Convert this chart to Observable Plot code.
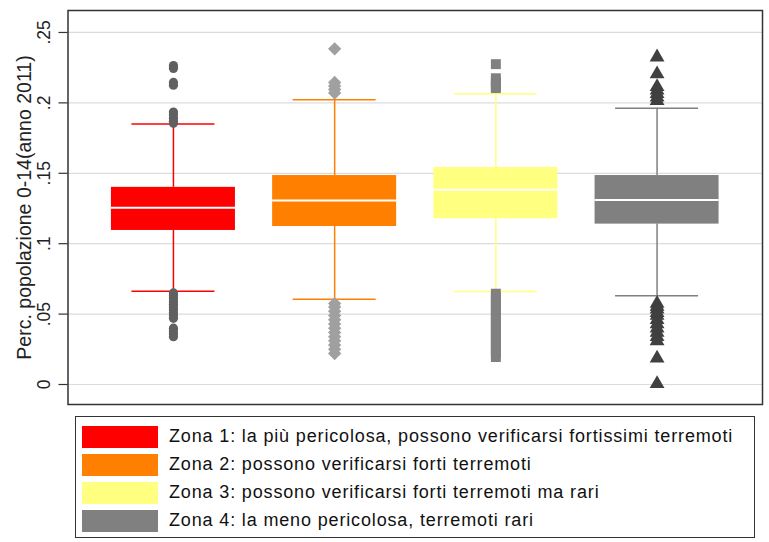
<!DOCTYPE html>
<html><head><meta charset="utf-8">
<script src="https://cdn.jsdelivr.net/npm/d3@7"></script>
<script src="https://cdn.jsdelivr.net/npm/@observablehq/plot@0.6"></script>
<style>
body{margin:0;background:#fff;font-family:"Liberation Sans",Arial,sans-serif;}
#wrap{position:relative;width:769px;height:542px;overflow:hidden;}
#chart{position:absolute;left:0;top:0;}
#legend{position:absolute;left:75px;top:416px;width:680px;height:122px;box-sizing:border-box;border:1.5px solid #333;}
.row{position:absolute;left:6px;height:22px;display:flex;align-items:center;}
.sw{width:76px;height:22px;flex:none;}
.lab{margin-left:11px;font-size:18px;letter-spacing:0.85px;color:#111;white-space:nowrap;}
</style></head><body><div id="wrap"><div id="chart"></div><div id="legend"></div></div>
<script>
const zones = ["Zona 1", "Zona 2", "Zona 3", "Zona 4"];
const legendLabels = [
  "Zona 1: la più pericolosa, possono verificarsi fortissimi terremoti",
  "Zona 2: possono verificarsi forti terremoti",
  "Zona 3: possono verificarsi forti terremoti ma rari",
  "Zona 4: la meno pericolosa, terremoti rari"
];
const colors = ["#ff0000", "#ff8000", "#ffff80", "#808080"];
const q1 = [0.1094, 0.1122, 0.1177, 0.1139];
const median = [0.1255, 0.1307, 0.1383, 0.1311];
const q3 = [0.1400, 0.1484, 0.1541, 0.1484];
const whiskLo = [0.0663, 0.0606, 0.0660, 0.0630];
const whiskHi = [0.1850, 0.2022, 0.2065, 0.1962];

const out1 = [0.2265, 0.2245, 0.2145, 0.2125, 0.1935, 0.1915, 0.189, 0.187, 0.1855,
  0.065, 0.063, 0.061, 0.059, 0.057, 0.055, 0.053, 0.051, 0.049, 0.047, 0.040, 0.038, 0.036, 0.034];
const out2 = [0.2384, 0.2145, 0.212, 0.2095, 0.207,
  0.0575, 0.055, 0.052, 0.049, 0.046, 0.043, 0.040, 0.037, 0.034, 0.031, 0.028, 0.025, 0.022];
const out3 = [0.2275, 0.2175, 0.2155, 0.2135, 0.2115, 0.2105,
  0.0645, 0.062, 0.0595, 0.057, 0.0545, 0.052, 0.0495, 0.047, 0.0445, 0.042, 0.0395, 0.037,
  0.0345, 0.032, 0.0295, 0.027, 0.0245, 0.022, 0.0195];
const out4 = [0.2325, 0.2205, 0.2115, 0.209, 0.2065, 0.204, 0.2015,
  0.0575, 0.0555, 0.0535, 0.051, 0.049, 0.046, 0.043, 0.040, 0.037, 0.034, 0.031, 0.0186, 0.0005];

const tickValues = [0.25, 0.2, 0.15, 0.1, 0.05, 0];
const tickLabels = [".25", ".2", ".15", ".1", ".05", "0"];
const yTitle = "Perc. popolazione 0-14(anno 2011)";

const symbols = ["circle", "diamond2", "square", "triangle"];
const symbolR = [4.6, 6, 5.6, 5.5];
const symbolFill = ["#606060", "#a0a0a0", "#808080", "#404040"];

const boxes = zones.map((z, i) => ({zone: z, q1: q1[i], med: median[i], q3: q3[i], lo: whiskLo[i], hi: whiskHi[i], color: colors[i]}));
const outs = [out1, out2, out3, out4];

const chart = Plot.plot({
  width: 769, height: 412,
  marginLeft: 67.5, marginRight: 7, marginTop: 10, marginBottom: 8,
  style: {fontFamily: "'Liberation Sans', Arial, sans-serif", background: "transparent"},
  x: {domain: zones, paddingInner: 0.2308, paddingOuter: 0.2694, round: false, axis: null},
  y: {domain: [-0.0142, 0.2656], axis: null},
  color: {type: "identity"},
  marks: [
    Plot.gridY(tickValues, {stroke: "#dcdcdc", strokeOpacity: 1, strokeWidth: 1.2}),
    Plot.ruleX(boxes, {x: "zone", y1: "lo", y2: "q1", stroke: "color", strokeWidth: 1.5}),
    Plot.ruleX(boxes, {x: "zone", y1: "q3", y2: "hi", stroke: "color", strokeWidth: 1.5}),
    Plot.tickY(boxes, {x: "zone", y: "lo", stroke: "color", strokeWidth: 1.5, insetLeft: 20.5, insetRight: 20.5}),
    Plot.tickY(boxes, {x: "zone", y: "hi", stroke: "color", strokeWidth: 1.5, insetLeft: 20.5, insetRight: 20.5}),
    Plot.barY(boxes, {x: "zone", y1: "q1", y2: "q3", fill: "color"}),
    Plot.tickY(boxes, {x: "zone", y: "med", stroke: "white", strokeWidth: 2}),
    ...outs.map((arr, i) => Plot.dot(arr, {x: () => zones[i], y: d => d, symbol: symbols[i], r: symbolR[i], fill: symbolFill[i], stroke: "none"})),
    Plot.frame({stroke: "#333", strokeWidth: 1.5}),
    Plot.axisY(tickValues, {tickSize: 9, tickFormat: () => "", label: null, stroke: "#333", strokeWidth: 1.2}),
    Plot.text(tickValues, {y: d => d, text: (d, i) => tickLabels[i], frameAnchor: "left", dx: -18, rotate: -90, textAnchor: "middle", lineAnchor: "bottom", fontSize: 17.5, fill: "#222"}),
    Plot.text([yTitle], {text: d => d, frameAnchor: "left", dx: -37, rotate: -90, textAnchor: "middle", lineAnchor: "bottom", fontSize: 19.5, fill: "#222"})
  ]
});
document.getElementById("chart").appendChild(chart);

const legend = document.getElementById("legend");
legendLabels.forEach((lab, i) => {
  const row = document.createElement("div");
  row.className = "row";
  row.style.top = (8.5 + i * 28) + "px";
  const sw = document.createElement("div");
  sw.className = "sw";
  sw.style.background = colors[i];
  const t = document.createElement("span");
  t.className = "lab";
  t.textContent = lab;
  row.appendChild(sw); row.appendChild(t);
  legend.appendChild(row);
});
</script>
</body></html>
